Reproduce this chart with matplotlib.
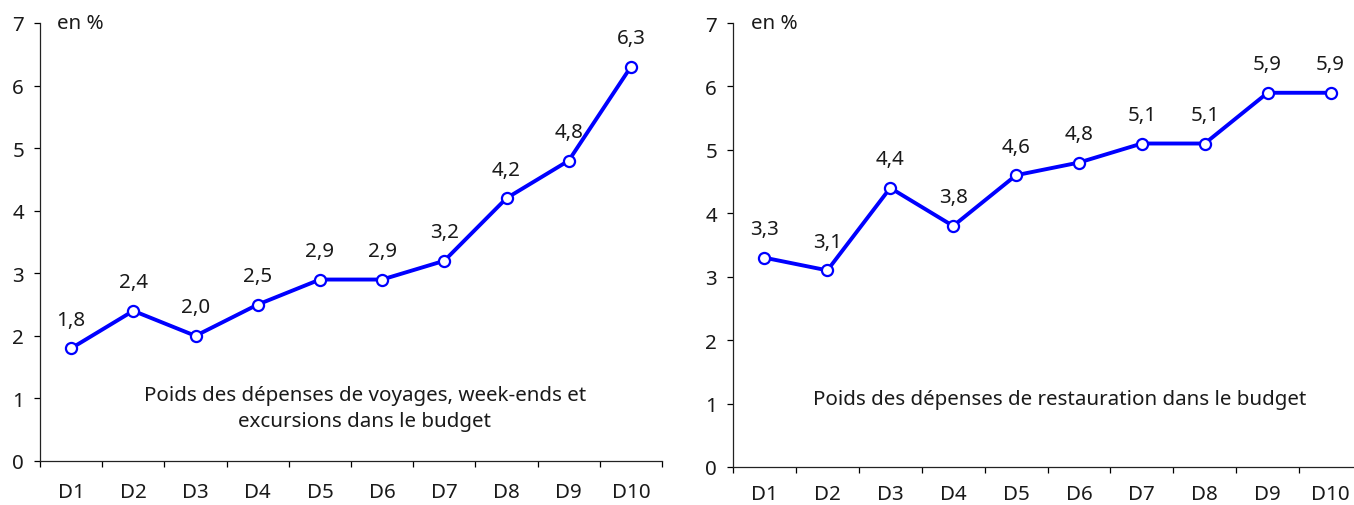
import matplotlib
matplotlib.use("Agg")
import matplotlib.pyplot as plt
import numpy as np

deciles = ["D1", "D2", "D3", "D4", "D5", "D6", "D7", "D8", "D9", "D10"]
voyages = [1.8, 2.4, 2.0, 2.5, 2.9, 2.9, 3.2, 4.2, 4.8, 6.3]
restauration = [3.3, 3.1, 4.4, 3.8, 4.6, 4.8, 5.1, 5.1, 5.9, 5.9]
y_ticks = [0, 1, 2, 3, 4, 5, 6, 7]
title_voyages = "Poids des dépenses de voyages, week-ends et\nexcursions dans le budget"
title_restauration = "Poids des dépenses de restauration dans le budget"
unit_label = "en %"

plt.rcParams["font.family"] = ["Noto Sans", "DejaVu Sans"]
TXT = "#1a1a1a"
BLUE = "#0000ff"
FS = 14.8

W, H = 1354, 506
fig = plt.figure(figsize=(W / 100, H / 100), dpi=100)


def px_box(x0, x1, ybot, ytop):
    return [x0 / W, (H - ybot) / H, (x1 - x0) / W, (ybot - ytop) / H]


def panel(rect, values, title, title_xy, unit_x, label_pad):
    ax = fig.add_axes(rect)
    x = np.arange(len(deciles))
    ax.plot(x, values, color=BLUE, lw=2.8, marker="o", ms=8,
            mfc="white", mec=BLUE, mew=1.6, zorder=3, clip_on=False)
    for xi, v in zip(x, values):
        ax.annotate(f"{v:.1f}".replace(".", ","), (xi, v), xytext=(0, 20.5),
                    textcoords="offset points", ha="center", va="center",
                    fontsize=FS, color=TXT)
    ax.set_xlim(-0.5, len(deciles) - 0.5)
    ax.set_ylim(0, 7)
    ax.set_yticks(y_ticks)
    ax.set_yticklabels([str(t) for t in y_ticks], fontsize=FS, color=TXT)
    ax.set_xticks(x)
    ax.set_xticklabels(deciles, fontsize=FS, color=TXT)
    ax.set_xticks(np.arange(-0.5, len(deciles)), minor=True)
    ax.tick_params(axis="x", which="major", length=0, pad=label_pad)
    ax.tick_params(axis="x", which="minor", length=4.5, width=0.9, direction="out")
    ax.tick_params(axis="y", length=4.5, width=0.9, pad=7, direction="out")
    for s in ("top", "right"):
        ax.spines[s].set_visible(False)
    for s in ("left", "bottom"):
        ax.spines[s].set_linewidth(0.9)
        ax.spines[s].set_color("#222222")
    ax.text(unit_x, 7, unit_label, fontsize=FS, color=TXT, va="center", ha="left")
    ax.text(*title_xy, title, transform=fig.transFigure, ha="center", va="center",
            fontsize=FS, color=TXT, linespacing=1.45)
    return ax


panel(px_box(40, 662, 462, 24), voyages, title_voyages,
      (365 / W, (H - 409) / H), -0.22, 15)
panel(px_box(733, 1362, 468, 24), restauration, title_restauration,
      (1060 / W, (H - 400) / H), -0.22, 12.5)

fig.savefig("out.png", dpi=100)
